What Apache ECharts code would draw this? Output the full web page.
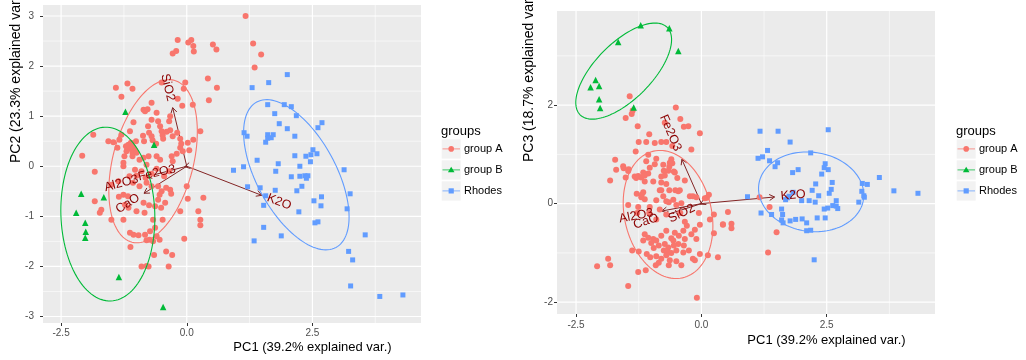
<!DOCTYPE html>
<html><head><meta charset="utf-8">
<script src="https://cdn.jsdelivr.net/npm/echarts@6/dist/echarts.min.js"></script>
<style>html,body{margin:0;padding:0;background:#fff}#c{width:1026px;height:360px}</style>
</head><body><div id="c"></div>
<script>
// ---------------- data ----------------
const groups = ['group A', 'group B', 'Rhodes'];
const varNames = ['SiO2', 'Fe2O3', 'Al2O3', 'CaO', 'K2O'];

// Left panel: PC1 vs PC2
const leftA = [[1.17,3.0],[1.32,2.45],[1.48,2.23],[1.35,1.97],[-0.18,2.52],[0.03,2.47],[0.09,2.52],[0.13,2.4],[0.14,2.29],[0.52,2.43],[0.59,2.33],[-0.28,2.25],[-0.21,2.3],[-0.03,1.67],[-0.06,1.55],[0.42,1.75],[0.6,1.57],[0.44,1.32],[-1.41,1.57],[-1.18,1.65],[-1.08,1.55],[-1.3,1.39],[-0.18,1.35],[-0.09,1.21],[0.12,1.23],[-0.5,1.67],
[-0.7,1.27],[-0.86,1.13],[-0.83,1.1],[-0.78,1.14],[-0.6,1.07],[-0.33,1.0],[-0.35,0.9],[-0.57,0.9],[-0.7,0.93],[-1.06,0.88],[-0.53,0.8],[-0.77,0.8],[-1.13,0.7],[-0.5,0.7],[-0.4,0.69],[-0.33,0.72],[-0.19,0.67],[0.27,0.7],[0.13,0.53],[-0.13,0.55],[-0.47,0.55],[-0.7,0.6],[-0.87,0.61],[-1.3,0.63],[-1.34,0.53],[-1.46,0.48],[-1.56,0.5],[-1.86,0.63],[-2.08,0.21],[-1.83,-0.11],
[-1.16,0.43],[-1.1,0.41],[-1.06,0.37],[-1.13,0.35],[-1.03,0.32],[-1.08,0.27],[-1.0,0.27],[-1.2,0.3],[-1.18,0.38],
[-0.86,0.17],[-0.76,0.2],[-0.6,0.2],[-0.53,0.13],[-0.3,0.2],[-0.13,0.37],[0.05,0.32],[-0.2,0.25],
[-1.38,0.37],[-1.21,0.4],[-1.11,0.47],[-1.01,0.5],[-0.85,0.5],[-0.75,0.67],[-0.68,0.52],[-0.61,0.45],[-0.48,0.62],[-0.28,0.6],[-0.11,0.45],[0.02,0.47],[-1.24,0.2],[-1.26,0.07],[-1.08,0.2],[-0.94,0.13],[-0.28,0.1],[-0.08,0.3],
[-1.26,0.0],[-1.03,-0.07],[-1.14,-0.2],[-1.36,-0.3],[-1.5,-0.37],[-0.8,0.03],[-0.57,-0.4],[-0.5,-0.5],[-0.33,-0.47],[0.0,-0.4],[-0.57,-0.67],[-0.43,-0.73],[-0.63,-0.8],[-0.86,-0.73],[-1.0,-0.9],[-1.16,-0.83],[-1.26,-1.07],[-1.5,-1.07],[-1.7,-0.87],[-1.73,-0.93],[-1.83,-0.7],[-0.13,-0.9],[0.23,-0.9],[0.27,-1.07],[0.27,-1.18],[0.33,-0.63],[-1.13,-1.33],[-1.06,-1.37],[-0.96,-1.38],[-0.83,-1.37],[-0.73,-1.3],[-0.63,-1.23],[-0.6,-1.4],
[-1.35,-0.61],[-1.26,-0.57],[-1.17,-0.6],[-1.23,-0.77],[-1.0,-0.19],[-0.82,-0.23],[-1.07,-0.33],[-0.94,-0.4],[-0.8,-0.33],[-0.7,-0.4],[-0.41,-0.43],[-0.31,-0.55],[-0.54,-0.57],[-0.75,-0.78],[-0.51,-0.83],[-0.84,-0.93],[-0.67,-1.07],[-0.48,-1.07],[0.02,-0.65],[-0.05,-1.45],[-0.54,-1.47],[-0.67,-1.5],[-0.74,-1.47],[-0.8,-1.48],[-1.12,-1.61],[-0.65,-1.77],[-0.41,-1.7],[-0.29,-1.77],[-0.9,-2.0],[-0.8,-1.99],[-0.76,-2.0],[-0.36,-2.0],
[-0.9,-0.1],[-0.7,-0.15],[-0.6,-0.05],[-0.45,-0.2],[-0.35,-0.1]];
const leftB = [[-1.22,1.09],[-0.65,0.43],[-1.65,-0.62],[-2.1,-0.55],[-2.2,-0.93],[-2.02,-1.13],[-2.01,-1.31],[-2.02,-1.43],[-1.35,-2.21],[-0.47,-2.81]];
const leftR = [[2.0,1.83],[1.63,1.67],[1.3,1.57],[1.61,1.23],[1.94,1.23],[2.08,1.19],[1.75,1.05],[2.18,1.01],[1.84,0.85],[2.0,0.75],[2.69,0.87],[2.61,0.77],[1.14,0.67],[1.2,0.6],[1.61,0.63],[1.61,0.56],[1.68,0.57],[1.72,0.63],[1.57,0.48],[2.15,0.6],[2.51,0.33],[2.59,0.25],[2.37,0.2],[2.46,0.09],[2.47,0.23],[2.15,0.21],[1.82,0.05],[1.4,0.12],[1.13,-0.01],[2.25,0.0],[1.77,-0.1],[3.13,-0.07],[2.08,-0.21],[2.25,-0.2],[2.35,-0.19],[2.41,-0.19],[2.38,-0.24],[0.93,-0.08],[1.21,-0.41],[1.46,-0.43],[2.29,-0.4],[2.19,-0.49],[1.76,-0.48],[1.57,-0.59],[1.53,-0.78],[2.53,-0.69],[2.68,-0.61],[2.67,-0.79],[2.23,-0.91],[2.55,-1.13],[2.61,-1.11],[3.25,-0.55],[3.19,-0.85],[1.53,-1.22],[1.34,-1.49],[1.88,-1.39],[3.55,-1.37],[3.22,-1.7],[3.3,-1.87],[3.26,-2.39],[3.84,-2.6],[4.3,-2.57]];

// Right panel: PC1 vs PC3
const rightA = [[-1.43,2.18],[-1.37,1.89],[-1.39,1.82],[-1.51,1.74],[-0.51,1.95],[-0.42,1.72],[-0.73,1.64],[-1.27,1.57],[-0.35,1.56],[-0.26,1.57],[-1.04,1.41],[-0.03,1.43],[-1.25,1.25],[-1.1,1.25],[-0.93,1.23],[-0.7,1.25],[-0.58,1.17],[-0.2,1.1],[-1.31,1.06],[-1.72,0.89],[-1.56,0.76],[-1.7,0.69],[-1.46,0.66],[-1.06,0.99],[-1.1,0.86],[-0.9,0.91],[-0.6,0.9],[-0.58,0.82],[-0.76,0.79],[-0.64,0.75],[-1.16,0.63],[-1.06,0.61],[-0.75,0.67],[-0.8,0.55],[-0.53,0.63],
[-0.8,1.25],[-1.55,0.72],[-1.45,0.7],[-1.51,0.53],[-1.82,0.47],[-1.3,0.52],[-1.2,0.53],[-1.13,0.57],[-1.03,0.73],[-0.93,0.8],[-0.63,0.83],[-0.66,0.67],[-0.73,0.57],[-0.55,0.65],[-0.48,0.52],[-0.33,0.47],[-0.43,0.27],[-0.64,0.27],[-0.83,0.27],[-0.76,0.15],[-1.16,0.23],[-1.29,0.2],[-1.2,0.13],[-1.46,-0.03],[-1.26,-0.07],[-1.03,-0.07],[-0.83,-0.12],[-0.65,0.03],[-0.5,-0.03],[-0.23,0.15],[-0.1,0.13],[0.11,0.12],[0.25,-0.22],[0.53,-0.17],[0.6,-0.41],[0.6,-0.5],[0.43,-0.43],[0.25,-0.6],[-0.03,-0.43],[-0.13,-0.53],[-0.33,-0.37],[-0.29,-0.45],[1.16,0.13],[1.36,-0.07],[1.5,-0.58],[1.33,-0.99],
[-1.33,0.55],[-1.26,0.56],[-1.13,0.45],[-0.96,0.45],[-0.8,0.43],[-0.7,0.4],[-0.8,0.27],[-0.52,0.27],[-0.46,0.25],[-1.19,0.18],[-1.13,0.09],[-0.9,0.07],[-0.7,0.05],[-0.56,0.08],[-0.4,0.01],[-0.17,0.15],[0.07,0.11],[0.15,0.18],[-1.28,-0.19],[-1.04,-0.19],[-0.9,-0.32],[-0.7,-0.22],[-0.42,-0.19],[-0.05,-0.19],[0.17,-0.32],[0.43,-0.42],[-0.7,-0.55],[-0.53,-0.59],[-0.36,-0.55],[-1.13,-0.62],[-1.06,-0.69],[-0.96,-0.72],[-1.16,-0.75],[-0.9,-0.75],[-0.73,-0.82],[-0.56,-0.75],[-0.46,-0.82],[-0.66,-0.89],[-0.33,-0.72],[-0.1,-0.72],[-0.2,-0.62],[-1.38,-0.95],[-1.25,-0.97],[-1.09,-1.02],[-1.02,-1.09],[-0.9,-1.07],[-0.8,-1.12],[-0.63,-1.15],[-0.5,-1.17],[-0.4,-1.25],[-0.17,-1.12],[-0.13,-1.15],[-0.03,-1.02],[0.13,-1.05],[0.33,-1.09],[-0.36,-0.99],[-0.66,-0.99],[-0.91,-1.25],[-1.11,-1.35],[-1.26,-1.39],[-1.86,-1.12],[-1.82,-1.25],[-2.08,-1.27],[-1.46,-1.67],[-0.09,-1.91],
[-0.85,-0.85],[-0.6,-0.7],[-0.5,-0.95],[-0.75,-0.95],[-0.6,-1.0],[-0.45,-0.65],[-0.95,-0.9],[-0.55,-0.85],[-0.35,-0.85],[-0.25,-0.95],[-0.7,-1.05],[-0.85,-1.2],[-0.65,-1.25],[-1.0,-0.8],[-0.8,-0.65]];
const rightB = [[-1.21,3.62],[-0.64,3.56],[-1.66,3.28],[-0.46,3.1],[-2.11,2.51],[-2.21,2.36],[-2.04,2.39],[-2.04,2.12],[-2.02,1.94],[-1.35,1.95]];
const rightR = [[1.17,1.47],[1.53,1.47],[2.53,1.5],[1.77,1.25],[1.32,1.08],[1.22,0.95],[1.36,0.87],[1.52,0.83],[1.47,0.75],[2.18,1.03],[1.82,0.63],[1.93,0.69],[2.47,0.81],[2.45,0.73],[2.53,0.69],[2.4,0.6],[3.55,0.53],[1.13,0.92],[2.28,0.4],[2.61,0.43],[2.59,0.29],[2.55,0.21],[2.21,0.27],[2.34,0.16],[1.83,0.23],[1.75,0.15],[1.68,0.08],[1.72,0.12],[2.0,0.06],[2.15,0.06],[2.27,0.03],[2.69,0.06],[2.62,-0.04],[2.69,-0.05],[2.72,-0.1],[2.45,-0.11],[2.52,-0.09],[3.21,0.41],[3.31,0.39],[3.2,0.25],[3.24,0.16],[3.25,0.13],[3.14,0.03],[3.84,0.26],[4.32,0.21],[1.4,-0.22],[1.6,-0.11],[1.62,-0.22],[1.6,-0.33],[1.63,-0.39],[1.77,-0.35],[1.88,-0.32],[2.01,-0.31],[2.1,-0.39],[2.31,-0.29],[2.47,-0.29],[2.1,-0.55],[2.18,-0.54],[2.25,-1.14],[1.19,-0.19],[0.92,0.14]];

// variable loadings (arrow tips), order = varNames
const loadLeft = [[-0.28,1.17],[-0.04,-0.009],[-0.8,-0.21],[-0.85,-0.54],[1.49,-0.58]];
const loadRight = [[-0.02,-0.01],[-0.39,0.9],[-0.79,-0.15],[-0.74,-0.24],[1.46,0.135]];

// group ellipses: [centerX, centerY, semiMajor, semiMinor, angleDeg], order = groups
const ellLeft = [[-0.67,0.1,1.67,0.8,75.5],[-1.57,-0.955,1.736,0.934,91.9],[2.18,-0.17,1.652,0.788,-61.5]];
const ellRight = [[-0.665,-0.22,1.318,0.868,102.6],[-1.55,2.69,1.242,0.567,45.9],[2.19,0.24,1.055,0.803,-8.7]];

// axis breaks
const xMajor = [-2.5, 0, 2.5];
const xMinor = [-1.25, 1.25, 3.75];
const xTickLabels = ['-2.5', '0.0', '2.5'];
const yMajorL = [-3, -2, -1, 0, 1, 2, 3];
const yMinorL = [-2.5, -1.5, -0.5, 0.5, 1.5, 2.5];
const yTickLabelsL = ['-3', '-2', '-1', '0', '1', '2', '3'];
const yMajorR = [-2, 0, 2];
const yMinorR = [-1, 1, 3];
const yTickLabelsR = ['-2', '0', '2'];

// ---------------- style ----------------
const COLORS = ['#F8766D', '#00BA38', '#619CFF'];
const SYMBOLS = ['circle', 'triangle', 'rect'];
const SYMSIZE = [6, 6.5, 5];
const FONT = '"Liberation Sans", Arial, Helvetica, sans-serif';
const ARROW = '#832424';
const DARKRED = '#8B0000';

const mctx = document.createElement('canvas').getContext('2d');
function textW(s, font) { mctx.font = font; return mctx.measureText(s).width; }

function labelFor(vals, labels) {
  return function (v) {
    for (let i = 0; i < vals.length; i++) if (Math.abs(vals[i] - v) < 1e-9) return labels[i];
    return '';
  };
}

function makeXAxis(gi, min, max, margin) {
  return {
    type: 'value', gridIndex: gi, min: min, max: max,
    axisLine: { show: false, onZero: false },
    splitLine: { show: false },
    axisTick: { show: true, length: 3, lineStyle: { color: '#333', width: 1 }, customValues: xMajor },
    axisLabel: { customValues: xMajor, formatter: labelFor(xMajor, xTickLabels), color: '#4d4d4d', fontSize: 10, margin: margin, fontFamily: FONT }
  };
}
function makeYAxis(gi, min, max, vals, labels, margin) {
  return {
    type: 'value', gridIndex: gi, min: min, max: max,
    axisLine: { show: false, onZero: false },
    splitLine: { show: false },
    axisTick: { show: true, length: 3, lineStyle: { color: '#333', width: 1 }, customValues: vals },
    axisLabel: { customValues: vals, formatter: labelFor(vals, labels), color: '#4d4d4d', fontSize: 10, margin: margin, fontFamily: FONT }
  };
}

function gridSeries(gi, xMaj, xMin, yMaj, yMin) {
  const data = [];
  xMin.forEach(v => data.push([v, 0, 0]));
  yMin.forEach(v => data.push([v, 1, 0]));
  xMaj.forEach(v => data.push([v, 0, 1]));
  yMaj.forEach(v => data.push([v, 1, 1]));
  return {
    type: 'custom', xAxisIndex: gi, yAxisIndex: gi, z: 1, silent: true, animation: false,
    data: data,
    renderItem: function (params, api) {
      const cs = params.coordSys;
      const v = api.value(0), o = api.value(1), maj = api.value(2);
      const lw = maj ? 1.2 : 0.6;
      let shape;
      if (o === 0) {
        const p = api.coord([v, 0])[0];
        if (p < cs.x || p > cs.x + cs.width) return null;
        shape = { x1: p, y1: cs.y, x2: p, y2: cs.y + cs.height };
      } else {
        const p = api.coord([0, v])[1];
        if (p < cs.y || p > cs.y + cs.height) return null;
        shape = { x1: cs.x, y1: p, x2: cs.x + cs.width, y2: p };
      }
      return { type: 'line', shape: shape, style: { stroke: '#ffffff', lineWidth: lw } };
    }
  };
}

function arrowSeries(gi, loads) {
  return {
    type: 'custom', xAxisIndex: gi, yAxisIndex: gi, z: 2, silent: true, animation: false,
    data: loads,
    renderItem: function (params, api) {
      const o = api.coord([0, 0]);
      const t = api.coord([api.value(0), api.value(1)]);
      const ang = Math.atan2(t[1] - o[1], t[0] - o[0]);
      const L = 6, a = Math.PI / 6;
      const p1 = [t[0] - L * Math.cos(ang - a), t[1] - L * Math.sin(ang - a)];
      const p2 = [t[0] - L * Math.cos(ang + a), t[1] - L * Math.sin(ang + a)];
      return {
        type: 'group', children: [
          { type: 'line', shape: { x1: o[0], y1: o[1], x2: t[0], y2: t[1] }, style: { stroke: ARROW, lineWidth: 1 } },
          { type: 'polyline', shape: { points: [p1, t, p2] }, style: { stroke: ARROW, lineWidth: 1, fill: null } }
        ]
      };
    }
  };
}

function labelSeries(gi, loads) {
  const font = '12.5px ' + FONT;
  return {
    type: 'custom', xAxisIndex: gi, yAxisIndex: gi, z: 5, silent: true, animation: false,
    data: loads,
    renderItem: function (params, api) {
      const x = api.value(0), y = api.value(1);
      const t = api.coord([x, y]);
      const name = varNames[params.dataIndex];
      const th = Math.atan(y / x);
      const w = textW(name, font);
      const s = x > 0 ? 0.25 * w : -0.25 * w;
      return {
        type: 'text', x: t[0] + Math.cos(th) * s, y: t[1] - Math.sin(th) * s, rotation: th,
        style: { text: name, x: 0, y: 0, align: x > 0 ? 'left' : 'right', verticalAlign: 'middle', fill: DARKRED, font: font }
      };
    }
  };
}

function ellipseSeries(gi, ells) {
  return {
    type: 'custom', xAxisIndex: gi, yAxisIndex: gi, z: 4, silent: true, animation: false, clip: true,
    data: ells,
    renderItem: function (params, api) {
      const cx = api.value(0), cy = api.value(1), A = api.value(2), B = api.value(3);
      const ph = api.value(4) * Math.PI / 180;
      const pts = [];
      for (let k = 0; k <= 120; k++) {
        const tt = k / 120 * Math.PI * 2;
        const ex = cx + A * Math.cos(ph) * Math.cos(tt) - B * Math.sin(ph) * Math.sin(tt);
        const ey = cy + A * Math.sin(ph) * Math.cos(tt) + B * Math.cos(ph) * Math.sin(tt);
        pts.push(api.coord([ex, ey]));
      }
      return { type: 'polyline', shape: { points: pts }, style: { stroke: COLORS[params.dataIndex], lineWidth: 1.1, fill: null } };
    }
  };
}

function scatterSeries(gi, data, g) {
  return {
    type: 'scatter', name: groups[g], xAxisIndex: gi, yAxisIndex: gi, z: 3, silent: true, animation: false,
    data: data, symbol: SYMBOLS[g], symbolSize: SYMSIZE[g],
    itemStyle: { color: COLORS[g], opacity: 1 }
  };
}

function legendEls(x0) {
  const els = [{ type: 'text', x: x0, y: 131, style: { text: 'groups', font: '13px ' + FONT, fill: '#000', align: 'left', verticalAlign: 'middle' } }];
  for (let i = 0; i < 3; i++) {
    const top = 139.3 + 21 * i, yc = top + 9.6, xc = x0 + 10.2;
    els.push({ type: 'rect', shape: { x: x0 + 0.7, y: top, width: 19, height: 19.3 }, style: { fill: '#f2f2f2' } });
    els.push({ type: 'line', shape: { x1: x0 + 1.5, y1: yc, x2: x0 + 19, y2: yc }, style: { stroke: COLORS[i], lineWidth: 1, opacity: 0.75 } });
    if (i === 0) els.push({ type: 'circle', shape: { cx: xc, cy: yc, r: 2.8 }, style: { fill: COLORS[i] } });
    if (i === 1) els.push({ type: 'polygon', shape: { points: [[xc, yc - 3.2], [xc + 3.3, yc + 2.4], [xc - 3.3, yc + 2.4]] }, style: { fill: COLORS[i] } });
    if (i === 2) els.push({ type: 'rect', shape: { x: xc - 2.6, y: yc - 2.6, width: 5.2, height: 5.2 }, style: { fill: COLORS[i] } });
    els.push({ type: 'text', x: x0 + 23, y: yc, style: { text: groups[i], font: '11px ' + FONT, fill: '#000', align: 'left', verticalAlign: 'middle' } });
  }
  return els;
}

const titleFont = '13px ' + FONT;
const graphicEls = [].concat(
  legendEls(441), legendEls(956),
  [
    { type: 'text', x: 312.5, y: 347.5, style: { text: 'PC1 (39.2% explained var.)', font: titleFont, fill: '#000', align: 'center', verticalAlign: 'middle' } },
    { type: 'text', x: 826.5, y: 340, style: { text: 'PC1 (39.2% explained var.)', font: titleFont, fill: '#000', align: 'center', verticalAlign: 'middle' } },
    { type: 'text', x: 16.5, y: 163, rotation: Math.PI / 2, style: { text: 'PC2 (23.3% explained var.)', font: '14px ' + FONT, fill: '#000', align: 'left', verticalAlign: 'middle' } },
    { type: 'text', x: 529, y: 162, rotation: Math.PI / 2, style: { text: 'PC3 (18.7% explained var.)', font: '14px ' + FONT, fill: '#000', align: 'left', verticalAlign: 'middle' } }
  ]
);

const chart = echarts.init(document.getElementById('c'), null, { renderer: 'canvas' });
chart.setOption({
  backgroundColor: '#ffffff',
  animation: false,
  textStyle: { fontFamily: FONT },
  grid: [
    { left: 43, top: 5, width: 378, height: 318, show: true, backgroundColor: '#ebebeb', borderWidth: 0, containLabel: false },
    { left: 557, top: 11, width: 378, height: 303, show: true, backgroundColor: '#ebebeb', borderWidth: 0, containLabel: false }
  ],
  xAxis: [makeXAxis(0, -2.86, 4.66, 5), makeXAxis(1, -2.88, 4.66, 6)],
  yAxis: [makeYAxis(0, -3.13, 3.22, yMajorL, yTickLabelsL, 9), makeYAxis(1, -2.24, 3.91, yMajorR, yTickLabelsR, 4)],
  graphic: { elements: graphicEls },
  series: [
    gridSeries(0, xMajor, xMinor, yMajorL, yMinorL),
    gridSeries(1, xMajor, xMinor, yMajorR, yMinorR),
    arrowSeries(0, loadLeft),
    arrowSeries(1, loadRight),
    scatterSeries(0, leftA, 0), scatterSeries(0, leftB, 1), scatterSeries(0, leftR, 2),
    scatterSeries(1, rightA, 0), scatterSeries(1, rightB, 1), scatterSeries(1, rightR, 2),
    ellipseSeries(0, ellLeft),
    ellipseSeries(1, ellRight),
    labelSeries(0, loadLeft),
    labelSeries(1, loadRight)
  ]
});
</script>
</body></html>
